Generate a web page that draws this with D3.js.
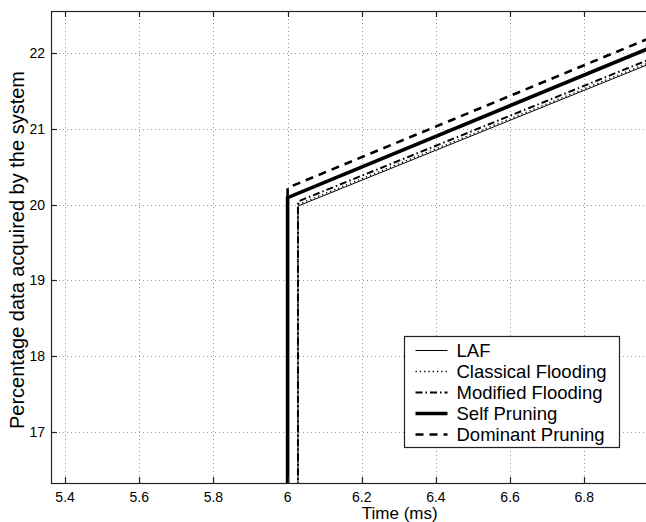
<!DOCTYPE html>
<html>
<head>
<meta charset="utf-8">
<script src="https://cdn.jsdelivr.net/npm/d3@7"></script>
<style>
  html, body { margin: 0; padding: 0; background: #fff; }
  svg { display: block; font-family: "Liberation Sans", Arial, sans-serif; }
</style>
</head>
<body>
<svg id="chart" width="646" height="522"></svg>
<script>
"use strict";

// Data ///////////////////////////////////////////////////
var seriesNames = ["LAF", "Classical Flooding", "Modified Flooding", "Self Pruning", "Dominant Pruning"];
var lafTime = [6.028, 6.028, 7.0];
var lafValue = [0, 19.98, 21.90];
var classicalTime = [6.028, 6.028, 7.0];
var classicalValue = [0, 20.0, 21.92];
var modifiedTime = [6.028, 6.028, 7.0];
var modifiedValue = [0, 20.04, 21.96];
var selfTime = [6.0, 6.0, 7.0];
var selfValue = [0, 20.09, 22.11];
var dominantTime = [6.0, 6.0, 7.0];
var dominantValue = [0, 20.22, 22.24];
var xTicks = [5.4, 5.6, 5.8, 6, 6.2, 6.4, 6.6, 6.8];
var yTicks = [17, 18, 19, 20, 21, 22];

var app = {

  // Setup //////////////////////////////////////////////
  draw: function() {
  ////////////////////////////////////////////////////////

    var svg = d3.select("#chart"),
        left = 51, top = 11, right = 651, bottom = 483;

    var x = d3.scaleLinear().domain([5.362, 6.98]).range([left, right]);
    var y = d3.scaleLinear().domain([16.33, 22.55]).range([bottom, top]);

    var zip = function(ts, vs) {
      return ts.map(function(t, i) { return [t, vs[i]]; });
    };

    var series = [
      { name: seriesNames[0], pts: zip(lafTime, lafValue), w: 1, dash: null },
      { name: seriesNames[1], pts: zip(classicalTime, classicalValue), w: 1.3, dash: "1.3,3" },
      { name: seriesNames[2], pts: zip(modifiedTime, modifiedValue), w: 2, dash: "7,3,1.5,3" },
      { name: seriesNames[3], pts: zip(selfTime, selfValue), w: 3.6, dash: null },
      { name: seriesNames[4], pts: zip(dominantTime, dominantValue), w: 2.6, dash: "8,6" }
    ];

    svg.append("clipPath").attr("id", "clip")
      .append("rect")
        .attr("x", left).attr("y", top)
        .attr("width", right - left).attr("height", bottom - top);

    // Grid
    var grid = svg.append("g")
        .attr("stroke", "#999")
        .attr("stroke-width", 1)
        .attr("stroke-dasharray", "1,3");

    grid.selectAll("line.gx").data(xTicks).enter()
      .append("line")
        .attr("x1", function(d) { return Math.round(x(d)) + 0.5; })
        .attr("x2", function(d) { return Math.round(x(d)) + 0.5; })
        .attr("y1", top).attr("y2", bottom);

    grid.selectAll("line.gy").data(yTicks).enter()
      .append("line")
        .attr("y1", function(d) { return Math.round(y(d)) + 0.5; })
        .attr("y2", function(d) { return Math.round(y(d)) + 0.5; })
        .attr("x1", left).attr("x2", right);

    // Lines
    var line = d3.line()
        .x(function(d) { return x(d[0]); })
        .y(function(d) { return y(d[1]); });

    svg.append("g").attr("clip-path", "url(#clip)")
      .selectAll("path").data(series).enter()
      .append("path")
        .attr("d", function(d) { return line(d.pts); })
        .attr("fill", "none")
        .attr("stroke", "#000")
        .attr("stroke-width", function(d) { return d.w; })
        .attr("stroke-dasharray", function(d) { return d.dash; });

    // Frame and ticks
    svg.append("rect")
        .attr("x", left + 0.5).attr("y", top + 0.5)
        .attr("width", right - left).attr("height", bottom - top)
        .attr("fill", "none").attr("stroke", "#222").attr("stroke-width", 1.2);

    var ticks = svg.append("g").attr("stroke", "#222").attr("stroke-width", 1.2);
    xTicks.forEach(function(t) {
      var px = Math.round(x(t)) + 0.5;
      ticks.append("line").attr("x1", px).attr("x2", px).attr("y1", bottom).attr("y2", bottom - 6);
      ticks.append("line").attr("x1", px).attr("x2", px).attr("y1", top).attr("y2", top + 6);
    });
    yTicks.forEach(function(t) {
      var py = Math.round(y(t)) + 0.5;
      ticks.append("line").attr("y1", py).attr("y2", py).attr("x1", left).attr("x2", left + 6);
    });

    // Tick labels
    svg.selectAll("text.xt").data(xTicks).enter()
      .append("text")
        .attr("x", function(d) { return x(d); })
        .attr("y", 502)
        .attr("text-anchor", "middle")
        .attr("font-size", 14)
        .text(function(d) { return d3.format("")(d); });

    svg.selectAll("text.yt").data(yTicks).enter()
      .append("text")
        .attr("x", 45)
        .attr("y", function(d) { return y(d) + 5; })
        .attr("text-anchor", "end")
        .attr("font-size", 14)
        .text(function(d) { return d; });

    // Axis labels
    svg.append("text")
        .attr("x", x(6.2) + 38).attr("y", 519)
        .attr("text-anchor", "middle")
        .attr("font-size", 17)
        .text("Time (ms)");

    svg.append("text")
        .attr("transform", "translate(24," + ((top + bottom) / 2 + 3) + ") rotate(-90)")
        .attr("text-anchor", "middle")
        .attr("font-size", 20)
        .text("Percentage data acquired by the system");

    // Legend
    var lg = svg.append("g").attr("transform", "translate(404.5,336.5)");
    lg.append("rect")
        .attr("width", 215).attr("height", 111)
        .attr("fill", "#fff").attr("stroke", "#222").attr("stroke-width", 1.2);

    var row = lg.selectAll("g.row").data(series).enter()
      .append("g")
        .attr("transform", function(d, i) { return "translate(0," + (14 + i * 21) + ")"; });

    row.append("line")
        .attr("x1", 11).attr("x2", 43)
        .attr("stroke", "#000")
        .attr("stroke-width", function(d) { return d.w; })
        .attr("stroke-dasharray", function(d) { return d.dash; });

    row.append("text")
        .attr("x", 52).attr("y", 6.5)
        .attr("font-size", 18.5)
        .text(function(d) { return d.name; });
  }

};

app.draw();
</script>
</body>
</html>
